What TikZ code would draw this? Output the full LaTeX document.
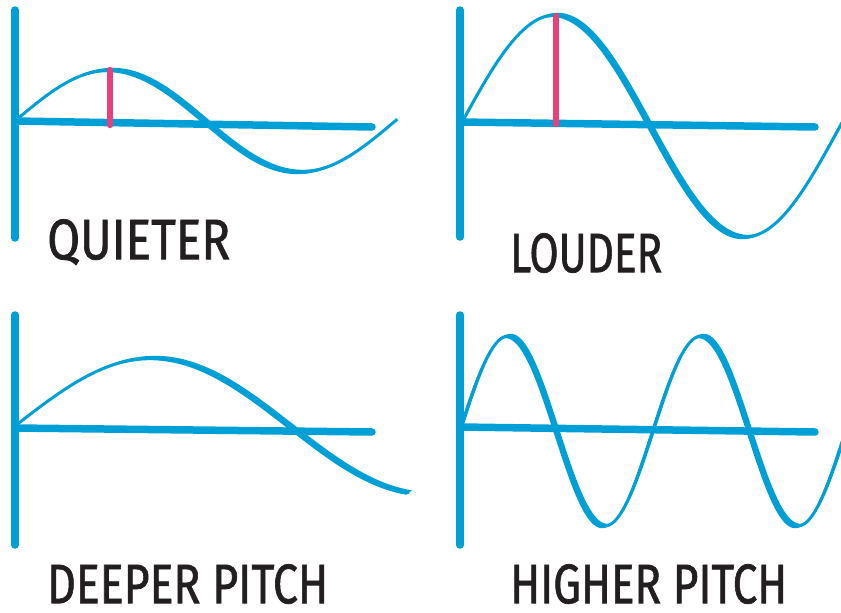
\documentclass[tikz,border=0pt]{standalone}
\usepackage{fontspec}
\setmainfont{Fira Sans}[FakeBold=1.3]
\usepackage{graphicx}
\definecolor{wave}{RGB}{0,159,214}
\definecolor{amp}{RGB}{234,64,122}
\definecolor{ink}{RGB}{35,31,32}
% pen-drawn sine: #1 x0, #2 y0, #3 amplitude, #4 px per degree, #5 end phase
\newcommand\penwave[5]{%
  \fill[wave] plot[domain=0:#5, samples=200, variable=\t]
      ({#1+#4*\t+2.6},{#2-#3*sin(\t)-2.2})
    -- plot[domain=0:#5, samples=200, variable=\t]
      ({#1+#4*(#5-\t)-2.6},{#2-#3*sin(#5-\t)+2.2}) -- cycle;
  \draw[wave, line width=3pt] plot[domain=0:#5, samples=200, variable=\t]
      ({#1+#4*\t},{#2-#3*sin(\t)});
}
\begin{document}
\begin{tikzpicture}[x=1pt,y=-1pt,
  axis/.style={wave, line width=7.5pt, line cap=round},
  ampline/.style={amp, line width=6.5pt, line cap=round},
  lbl/.style={inner sep=0pt, anchor=north west, text=ink}]
\useasboundingbox (0,0) rectangle (841,613);

\begin{scope}
\clip (0,0) rectangle (841,613);
% ---- top left: quieter
\draw[axis] (15,10) -- (15,238);
\draw[axis] (15,121) -- (372,127);
\penwave{15}{121}{51}{1.056}{362}
\draw[ampline] (110,70) -- (110,125);
% ---- top right: louder
\draw[axis] (460,10) -- (460,237);
\draw[axis] (460,122) -- (815,127);
\penwave{460}{126}{111}{1.056}{372}
\draw[ampline] (556,16) -- (556,124);
% ---- bottom left: deeper pitch
\draw[axis] (15,315) -- (15,545);
\draw[axis] (15,428) -- (372,432);
\penwave{15}{426}{68}{1.528}{258}
% ---- bottom right: higher pitch
\draw[axis] (460,315) -- (460,545);
\draw[axis] (460,427) -- (815,432);
\penwave{460}{431}{95}{0.536}{720}
\end{scope}

\node[lbl] (quieter) at (47,219) {\resizebox{183pt}{40pt}{QUIETER}};
\node[lbl] (louder) at (510,233) {\resizebox{152pt}{39pt}{LOUDER}};
\node[lbl] (deeper) at (47,564) {\resizebox{281pt}{39pt}{DEEPER PITCH}};
\node[lbl] (higher) at (510,564) {\resizebox{277pt}{39pt}{HIGHER PITCH}};
\end{tikzpicture}
\end{document}
